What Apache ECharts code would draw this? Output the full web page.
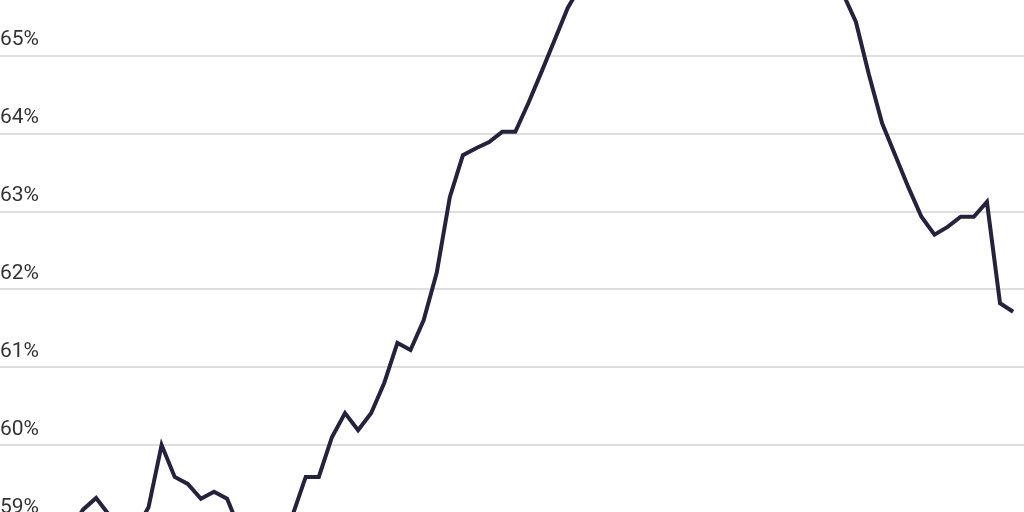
<!DOCTYPE html>
<html>
<head>
<meta charset="utf-8">
<title>Line chart</title>
<script src="https://cdn.jsdelivr.net/npm/echarts@6/dist/echarts.min.js"></script>
<style>
  html, body { margin: 0; padding: 0; background: #fff; overflow: hidden; }
  #chart { width: 1024px; height: 512px; }
</style>
</head>
<body>
<div id="chart"></div>
<script>
// 读图估计的数值(%),前两个点和中段峰值在画面外
var rates = [
    58.8, 58.9,
    59.17, 59.32, 59.1, 58.9, 58.9, 59.2, 60.0, 59.59, 59.5, 59.31,
    59.4, 59.31, 58.9, 58.8, 58.8, 58.9, 59.1, 59.59, 59.59, 60.1,
    60.41, 60.19, 60.41, 60.8, 61.31, 61.22, 61.6, 62.21, 63.18, 63.72,
    63.81, 63.89, 64.02, 64.02, 64.39, 64.79, 65.2, 65.61,
    65.9, 66.05, 66.15, 66.2, 66.25, 66.3, 66.35, 66.4, 66.4, 66.4, 66.35,
    66.3, 66.3, 66.25, 66.2, 66.15, 66.1, 66.0, 65.95, 65.9, 65.8,
    65.43, 64.75, 64.13, 63.72, 63.31, 62.93, 62.7, 62.8, 62.93, 62.93,
    63.12, 61.82, 61.71
];
var yTicks = [58, 59, 60, 61, 62, 63, 64, 65, 66, 67];

var points = rates.map(function (v, i) { return [i, v]; });

var myChart = echarts.init(document.getElementById('chart'));
var option = {
    animation: false,
    // 网格故意超出画布上下边,只露出中间一段
    grid: {
        left: 0,
        right: 0,
        top: -100.3,
        bottom: -88.8,
        containLabel: false,
        outerBoundsMode: 'none'
    },
    xAxis: {
        type: 'value',
        min: -4.336,
        max: 73.83,
        show: false
    },
    yAxis: {
        type: 'value',
        min: yTicks[0],
        max: yTicks[yTicks.length - 1],
        interval: 1,
        axisLine: { show: false },
        axisTick: { show: false },
        axisLabel: {
            inside: true,
            margin: 0,
            verticalAlign: 'bottom',
            padding: [0, 0, 5, 0],
            fontFamily: 'Roboto',
            fontSize: 21,
            color: '#333',
            formatter: '{value}%'
        },
        splitLine: {
            lineStyle: { color: '#d4d4d4', width: 1.5 }
        }
    },
    series: [{
        type: 'line',
        data: points,
        showSymbol: false,
        lineStyle: {
            color: '#25223c',
            width: 4,
            join: 'miter'
        },
        z: 3
    }]
};
myChart.setOption(option);
</script>
</body>
</html>
